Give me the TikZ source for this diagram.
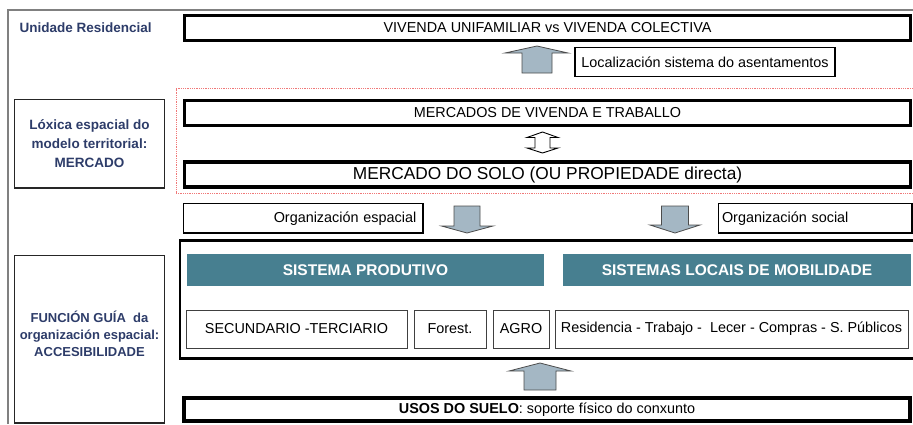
\documentclass[tikz,border=0pt]{standalone}
\usepackage{fontspec}
\setmainfont{Liberation Sans}
\usetikzlibrary{positioning}
\definecolor{navy}{RGB}{45,60,105}
\definecolor{barteal}{RGB}{71,127,144}
\definecolor{arrfill}{RGB}{164,183,196}
\definecolor{dotred}{RGB}{240,120,120}

\begin{document}
\begin{tikzpicture}[
    x=1pt, y=-1pt,
    font=\fontsize{14.4}{17}\selectfont
]
\tikzset{
    thickbox/.style = {rectangle, draw=black, line width=3.5pt, inner sep=0pt, outer sep=0pt, minimum width=726, minimum height=25},
    thinbox/.style = {rectangle, draw=black, line width=1.1pt, inner sep=0pt, minimum height=29.5},
    itembox/.style = {rectangle, draw=black!75, line width=0.9pt, inner sep=0pt, minimum height=38},
    sidebox/.style = {rectangle, draw=black!85, line width=1.3pt, inner sep=0pt, minimum width=150},
    sidetext/.style = {text=navy, align=center, font=\fontsize{13.5}{19}\selectfont\bfseries},
    bar/.style = {rectangle, fill=barteal, text=white, inner sep=0pt, minimum height=32, font=\fontsize{15.5}{18}\selectfont\bfseries},
    redframe/.style = {rectangle, draw=dotred, densely dotted, line width=0.8pt},
    blockarr/.style = {fill=arrfill, draw=black!70, line width=0.8pt},
    hollowarr/.style = {fill=white, draw=black, line width=0.9pt}
}
\useasboundingbox (0,0) rectangle (913,424);
\draw[gray, line width=2pt] (8,424) -- (8,10) -- (913,10);

\node[anchor=west, text=navy, font=\fontsize{13.5}{16}\selectfont\bfseries] at (16,28) (unidade) {Unidade Residencial};
\node[thickbox] at (547.5,28) (vivenda) {VIVENDA UNIFAMILIAR vs VIVENDA COLECTIVA};
\node[thinbox, minimum width=260] at (705,62) (localiz) {Localización sistema do asentamentos};

\node[redframe, minimum width=740, minimum height=104.5] at (546,140.75) (mercframe) {};
\node[thickbox] at (547.5,112.8) (mercados) {MERCADOS DE VIVENDA E TRABALLO};
\node[thickbox, font=\fontsize{17.3}{20}\selectfont] at (547.5,174.7) (solo) {MERCADO DO SOLO (OU PROPIEDADE directa)};
\node[sidebox, sidetext, minimum height=88.5] at (89.5,143.75) (loxica) {Lóxica espacial do\\modelo territorial:\\MERCADO};

\node[thinbox, minimum width=239.5, text width=226, align=right] at (303.25,218.25) (orgesp) {Organización espacial};
\node[thinbox, minimum width=193.5, text width=186.5, align=left] at (815.25,218.25) (orgsoc) {Organización social};

\node[draw=black, line width=2.6pt, inner sep=0pt, minimum width=737, minimum height=118] at (548.5,299.7) (acceso) {};
\node[bar, minimum width=357] at (365.5,270) (produtivo) {SISTEMA PRODUTIVO};
\node[bar, minimum width=348] at (737,270) (mobilidade) {SISTEMAS LOCAIS DE MOBILIDADE};
\node[itembox, minimum width=221] at (296.5,329) (secter) {SECUNDARIO -TERCIARIO};
\node[itembox, minimum width=72] at (450,329) (forest) {Forest.};
\node[itembox, minimum width=56] at (521,329) (agro) {AGRO};
\node[itembox, minimum width=353] at (731.5,329) (residencia) {Residencia - Trabajo - \ Lecer - Compras - S. Públicos};
\node[sidebox, minimum height=167.5] at (89.5,339.25) (funcion) {};
\node[sidetext, font=\fontsize{13}{17}\selectfont\bfseries] at (89.5,334) (funciontxt) {FUNCIÓN GUÍA\ \ da\\organización espacial:\\ACCESIBILIDADE};

\node[thickbox, minimum height=23] at (547,409.5) (usos) {\textbf{USOS DO SUELO}: soporte físico do conxunto};

\draw[blockarr] (522,73) -- (522,53) -- (505,53) -- (537,46) -- (568,53) -- (552,53) -- (552,73) -- cycle;
\draw[hollowarr] (542.5,132) -- (558,137.5) -- (550,137.5) -- (550,148) -- (558,148) -- (542.5,153)
    -- (527,148) -- (535,148) -- (535,137.5) -- (527,137.5) -- cycle;
\draw[blockarr] (454,206) -- (480,206) -- (480,226) -- (493,226) -- (467,233) -- (441.5,226) -- (454,226) -- cycle;
\draw[blockarr] (661.5,206) -- (688.5,206) -- (688.5,225) -- (700,225) -- (675,233) -- (650,225) -- (661.5,225) -- cycle;
\draw[blockarr] (524,390) -- (524,371) -- (509,371) -- (540,363) -- (571,371) -- (556,371) -- (556,390) -- cycle;
\end{tikzpicture}
\end{document}
